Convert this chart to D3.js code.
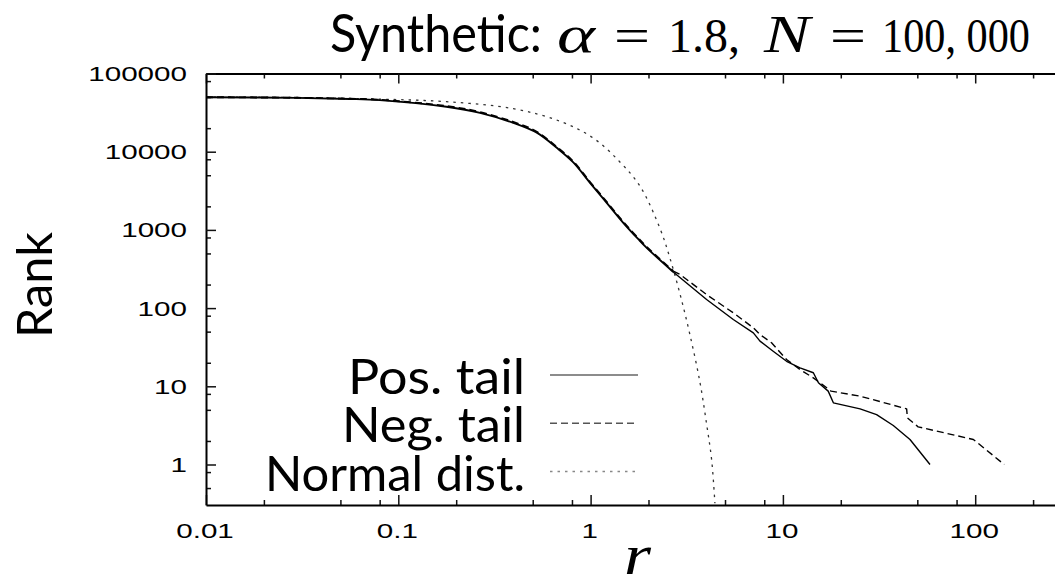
<!DOCTYPE html>
<html>
<head>
<meta charset="utf-8">
<script src="https://cdnjs.cloudflare.com/ajax/libs/d3/7.8.5/d3.min.js"></script>
<style>
  body { margin: 0; background: #fff; }
  svg { display: block; }
</style>
</head>
<body>
<svg width="1055" height="575"></svg>
<script>
// ---- data ----
// positive tail
var posR    = [0.01, 0.03, 0.056, 0.08, 0.178, 0.266, 0.396, 0.525, 0.667, 0.813, 0.993, 1.213, 1.479, 1.771, 1.958, 2.69,
               4.01, 5.52, 7.02, 7.60, 8.9, 10.45, 12.27, 14.4, 15.3, 17.2, 18.3, 25.2, 30.7, 37.5, 45.8, 58.2];
var posRank = [49800, 48800, 47300, 45600, 37500, 31400, 23400, 17500, 11200, 7300, 4000, 2220, 1233, 760, 590, 290,
               129, 71.5, 48.3, 37.8, 28.1, 20.9, 17.2, 14.9, 11.1, 8.67, 6.15, 5.15, 4.35, 3.15, 2.09, 1];

// negative tail
var negR    = [0.01, 0.03, 0.056, 0.08, 0.178, 0.266, 0.396, 0.525, 0.667, 0.813, 0.993, 1.213, 1.479, 1.771, 1.958, 2.69,
               2.92, 4.01, 5.52, 7.02, 7.60, 8.73, 10.45, 12.27, 14.4, 16.9, 17.8, 25.2, 44, 44.4, 50.5, 97.8, 141.6];
var negRank = [49800, 48900, 47600, 46200, 38300, 32100, 24000, 18000, 11500, 7500, 4100, 2280, 1265, 780, 605, 298,
               269, 149, 87, 56, 45.9, 36, 22.0, 16.4, 12.8, 9.57, 8.67, 7.48, 5.15, 3.95, 3.03, 2.09, 1];

// normal distribution
var normR    = [0.01, 0.03, 0.08, 0.178, 0.396, 0.694, 1.03, 1.42, 1.81, 2.30, 2.59, 2.92, 3.29, 3.71, 4.01, 4.26, 4.43];
var normRank = [49800, 49300, 47000, 43600, 35500, 24500, 15000, 7400, 3600, 1030, 430, 150, 45, 11, 3.3, 1.15, 0.32];

// ticks
var xMajor = [0.01, 0.1, 1, 10, 100];
var xLabels = ["0.01", "0.1", "1", "10", "100"];
var yMajor = [1, 10, 100, 1000, 10000, 100000];
var yLabels = ["1", "10", "100", "1000", "10000", "100000"];
var minorSteps = [2, 5, 8];

var legendNames = ["Pos. tail", "Neg. tail", "Normal dist."];

// title pieces
var titleParts = ["Synthetic:", "α", "=", "1.8,", "N", "=", "100, 000"];

// ---- layout ----
var svg = d3.select("svg");
var plotLeft = 206, plotRight = 1060, plotTop = 73.5, plotBottom = 505;
var decX = 192.3, decY = 78.2;

var x = d3.scaleLog()
    .domain([0.01, Math.pow(10, (plotRight - plotLeft) / decX - 2)])
    .range([plotLeft, plotRight]);
var y = d3.scaleLog()
    .domain([Math.pow(10, 5 - (plotBottom - plotTop) / decY), 100000])
    .range([plotBottom, plotTop]);

// minor tick values (2, 5, 8 in each decade)
function minors(lo, hi) {
    var out = [];
    for (var e = lo; e <= hi; e++) {
        minorSteps.forEach(function(m) { out.push(m * Math.pow(10, e)); });
    }
    return out;
}
var xMinor = minors(-2, 2).filter(function(v) { return v < x.domain()[1]; });
var yMinor = minors(-1, 4).filter(function(v) { return v > y.domain()[0]; });

// ---- axes ----
function styleAxis(g, showDomain) {
    g.select(".domain").attr("stroke", "#000").attr("stroke-width", 2).style("display", showDomain ? null : "none");
    g.selectAll(".tick line").attr("stroke", "#111").attr("stroke-width", 1.5);
    g.selectAll(".tick text").remove();
}

svg.append("g").attr("transform", "translate(0," + plotBottom + ")")
    .call(d3.axisBottom(x).tickValues(xMinor).tickSize(-5).tickSizeOuter(0).tickFormat(""))
    .call(styleAxis, false);
svg.append("g").attr("transform", "translate(0," + plotBottom + ")")
    .call(d3.axisBottom(x).tickValues(xMajor).tickSize(-10).tickSizeOuter(0).tickFormat(""))
    .call(styleAxis, true);

svg.append("g").attr("transform", "translate(0," + plotTop + ")")
    .call(d3.axisTop(x).tickValues(xMinor).tickSize(-5).tickSizeOuter(0).tickFormat(""))
    .call(styleAxis, false);
svg.append("g").attr("transform", "translate(0," + plotTop + ")")
    .call(d3.axisTop(x).tickValues(xMajor).tickSize(-10).tickSizeOuter(0).tickFormat(""))
    .call(styleAxis, true);

svg.append("g").attr("transform", "translate(" + plotLeft + ",0)")
    .call(d3.axisLeft(y).tickValues(yMinor).tickSize(-5).tickSizeOuter(0).tickFormat(""))
    .call(styleAxis, false);
svg.append("g").attr("transform", "translate(" + plotLeft + ",0)")
    .call(d3.axisLeft(y).tickValues(yMajor).tickSize(-10).tickSizeOuter(0).tickFormat(""))
    .call(styleAxis, true);

// tick labels (gnuplot helvetica, drawn wide)
var tickFont = "'Liberation Sans', Arial, Helvetica, sans-serif";
function wideText(px, py, str, anchor) {
    svg.append("text")
        .attr("transform", "translate(" + px + "," + py + ") scale(1.48,1)")
        .attr("text-anchor", anchor)
        .style("font-family", tickFont)
        .style("font-size", "20px")
        .attr("fill", "#000")
        .text(str);
}
xMajor.forEach(function(v, i) { wideText(x(v) - 1, 538, xLabels[i], "middle"); });
yMajor.forEach(function(v, i) { wideText(187, y(v) + 7.5, yLabels[i], "end"); });

// ---- curves ----
var smooth = d3.line()
    .x(function(d) { return x(d[0]); })
    .y(function(d) { return y(d[1]); })
    .curve(d3.curveCatmullRom.alpha(0.5));
var straight = d3.line()
    .x(function(d) { return x(d[0]); })
    .y(function(d) { return y(d[1]); });

var plot = svg.append("g").attr("fill", "none");

function pairs(rs, vs) { return rs.map(function(r, i) { return [r, vs[i]]; }); }

// the bulk of each tail is smooth, the sparse far end is drawn point to point
function drawTail(rs, vs, dash) {
    var pts = pairs(rs, vs);
    var k = rs.indexOf(2.69);
    plot.append("path").datum(pts.slice(0, k + 1)).attr("d", smooth)
        .attr("stroke", "#000").attr("stroke-width", 1.9).attr("stroke-dasharray", dash);
    plot.append("path").datum(pts.slice(k)).attr("d", straight)
        .attr("stroke", "#000").attr("stroke-width", 1.4).attr("stroke-dasharray", dash)
        .attr("stroke-linejoin", "round");
}

plot.append("path")
    .datum(pairs(normR, normRank))
    .attr("d", smooth)
    .attr("stroke", "#333").attr("stroke-width", 1.3).attr("stroke-dasharray", "2.5,5");
drawTail(negR, negRank, "7,4");
drawTail(posR, posRank, null);

// ---- legend ----
var cmSans = "Lato, 'Open Sans', sans-serif";
var legendDash = [null, "7,4", "2.5,5"];
var legendColour = ["#666", "#555", "#888"];
var legendWidth = [177, 183, 260];
legendNames.forEach(function(name, i) {
    var ly = 375 + i * 48.3;
    svg.append("line")
        .attr("x1", 550).attr("x2", 638).attr("y1", ly).attr("y2", ly)
        .attr("stroke", legendColour[i]).attr("stroke-width", 1.5)
        .attr("stroke-dasharray", legendDash[i]);
    svg.append("text")
        .attr("x", 525 - legendWidth[i]).attr("y", ly + 19)
        .attr("textLength", legendWidth[i]).attr("lengthAdjust", "spacingAndGlyphs")
        .style("font-family", cmSans).style("font-size", "49px")
        .text(name);
});

// ---- axis titles ----
svg.append("text")
    .attr("transform", "translate(51.7,285) rotate(-90)")
    .attr("text-anchor", "middle")
    .attr("textLength", 106).attr("lengthAdjust", "spacingAndGlyphs")
    .style("font-family", cmSans).style("font-size", "49px")
    .text("Rank");

svg.append("text")
    .attr("x", 624).attr("y", 574)
    .attr("textLength", 27).attr("lengthAdjust", "spacingAndGlyphs")
    .style("font-family", "'Liberation Serif', serif").style("font-style", "italic")
    .style("font-size", "56px")
    .text("r");

// ---- title ----
var serif = "'Liberation Serif', 'DejaVu Serif', serif";
var titleX = [330, 557, 614, 668, 764, 830, 882];
var titleW = [212, 38, 36, 72, 46, 36, 148];
titleParts.forEach(function(t, i) {
    var isSans = i === 0;
    var isItalic = (t === "α" || t === "N");
    svg.append("text")
        .attr("x", titleX[i]).attr("y", 52)
        .attr("textLength", titleW[i]).attr("lengthAdjust", "spacingAndGlyphs")
        .style("font-family", isSans ? cmSans : serif)
        .style("font-style", isItalic ? "italic" : "normal")
        .style("font-size", isSans ? "52px" : (isItalic ? "52px" : "48px"))
        .text(t);
});
</script>
</body>
</html>
